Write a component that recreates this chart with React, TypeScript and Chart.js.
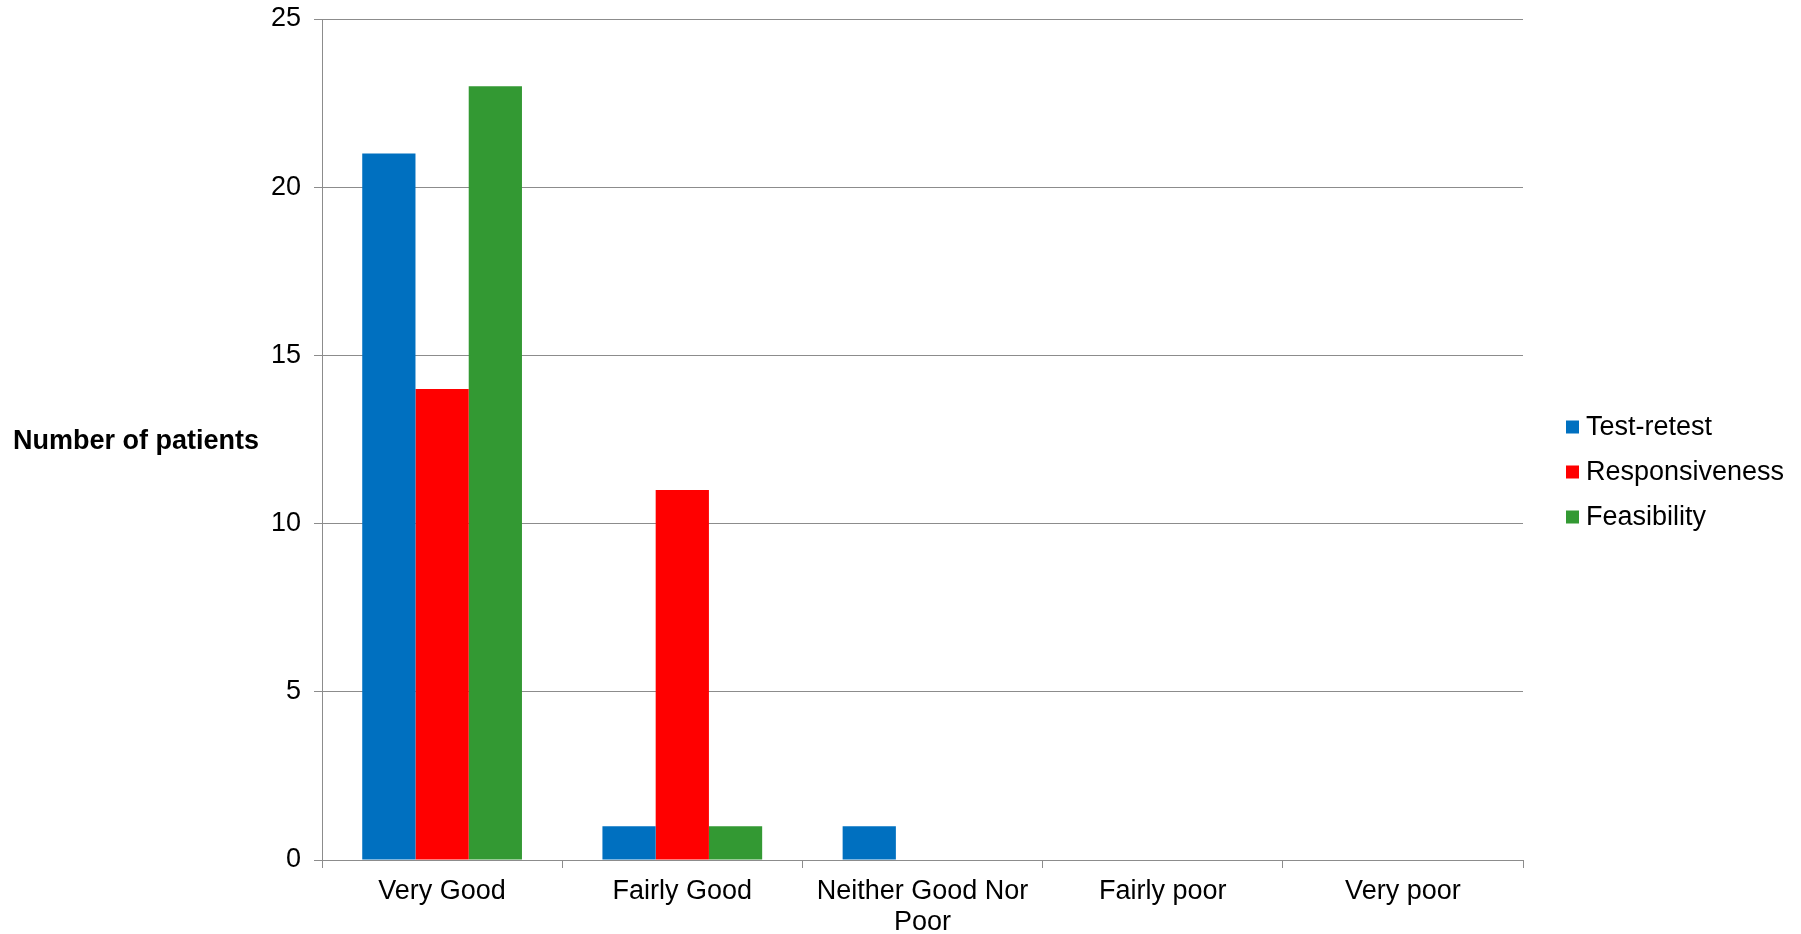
import React, { useEffect, useRef } from "react";
import { Chart, registerables } from "chart.js";

Chart.register(...registerables);

const categories: (string | string[])[] = [
  "Very Good",
  "Fairly Good",
  ["Neither Good Nor", "Poor"],
  "Fairly poor",
  "Very poor",
];
const testRetest = [21, 1, 1, 0, 0];
const responsiveness = [14, 11, 0, 0, 0];
const feasibility = [23, 1, 0, 0, 0];
const seriesNames = ["Test-retest", "Responsiveness", "Feasibility"];
const seriesColors = ["#0070C0", "#FF0000", "#339933"];
const yTitle = "Number of patients";

const FONT = "'Liberation Sans', Arial, sans-serif";
const GRID = "#8C8C8C";

// Horizontal axis title to the left of the y axis
const yTitlePlugin = {
  id: "yTitleHorizontal",
  afterDraw(chart: any) {
    const { ctx } = chart;
    ctx.save();
    ctx.font = `bold 27px ${FONT}`;
    ctx.fillStyle = "#000";
    ctx.textAlign = "left";
    ctx.textBaseline = "middle";
    ctx.fillText(yTitle, 13, 442);
    ctx.restore();
  },
};

// Legend drawn to the right of the plot area
const sideLegendPlugin = {
  id: "sideLegend",
  afterDraw(chart: any) {
    const { ctx, chartArea } = chart;
    const datasets = chart.data.datasets;
    const rowGap = 45;
    const startY = 427;
    const boxX = chartArea.right + 43;
    const box = 13;
    ctx.save();
    ctx.font = `27px ${FONT}`;
    ctx.textAlign = "left";
    ctx.textBaseline = "middle";
    datasets.forEach((ds: any, i: number) => {
      const y = startY + i * rowGap;
      ctx.fillStyle = ds.backgroundColor;
      ctx.fillRect(boxX, y - box / 2, box, box);
      ctx.fillStyle = "#000";
      ctx.fillText(ds.label, boxX + 20, y + 1);
    });
    ctx.restore();
  },
};

export default function App() {
  const canvasRef = useRef<HTMLCanvasElement | null>(null);

  useEffect(() => {
    if (!canvasRef.current) return;
    const values = [testRetest, responsiveness, feasibility];
    const chart = new Chart(canvasRef.current, {
      type: "bar",
      data: {
        labels: categories,
        datasets: values.map((data, i) => ({
          label: seriesNames[i],
          data,
          backgroundColor: seriesColors[i],
          borderWidth: 0,
          categoryPercentage: 0.665,
          barPercentage: 1,
        })),
      },
      options: {
        responsive: false,
        animation: false,
        layout: { padding: { top: 19, right: 278, left: 0, bottom: 0 } },
        plugins: {
          legend: { display: false },
          tooltip: { enabled: false },
        },
        scales: {
          x: {
            grid: {
              drawOnChartArea: false,
              drawTicks: true,
              tickLength: 8,
              color: GRID,
              offset: true,
            },
            border: { color: GRID, width: 1 },
            ticks: {
              font: { family: FONT, size: 27, lineHeight: 1.15 },
              color: "#000",
              padding: 8,
              maxRotation: 0,
              autoSkip: false,
            },
            afterFit: (scale: any) => {
              scale.height = 74;
              scale.paddingLeft = 0;
              scale.paddingRight = 0;
            },
          },
          y: {
            min: 0,
            max: 25,
            ticks: {
              stepSize: 5,
              font: { family: FONT, size: 27 },
              color: "#000",
              padding: 13,
            },
            grid: { color: GRID, tickLength: 8 },
            border: { color: GRID, width: 1 },
            afterFit: (scale: any) => {
              scale.width = 322;
              scale.paddingTop = 0;
              scale.paddingBottom = 0;
            },
          },
        },
      },
      plugins: [yTitlePlugin, sideLegendPlugin],
    });
    return () => chart.destroy();
  }, []);

  return (
    <div
      style={{
        position: "fixed",
        left: 0,
        top: 0,
        width: 1801,
        height: 934,
        background: "#fff",
      }}
    >
      <canvas ref={canvasRef} width={1801} height={934} />
    </div>
  );
}
